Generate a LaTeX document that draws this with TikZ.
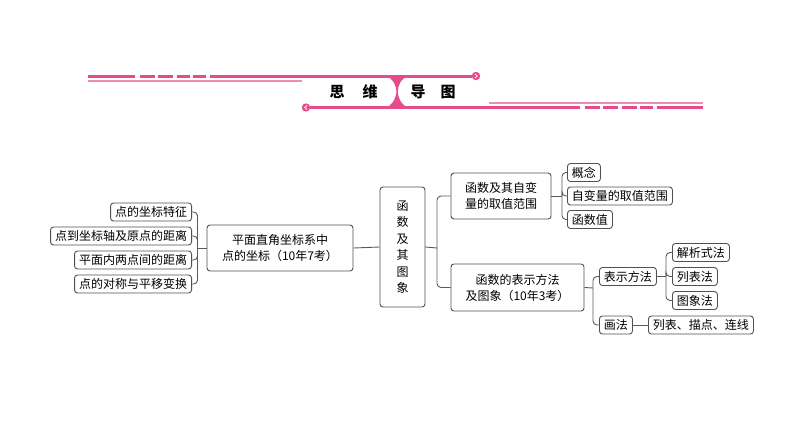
\documentclass[tikz,border=0pt]{standalone}
\usepackage{fontspec}
\setmainfont{Noto Sans CJK SC}
\definecolor{titlepink}{RGB}{230,76,140}
\definecolor{lightpink}{RGB}{238,140,178}
\definecolor{boxline}{RGB}{80,80,80}
\definecolor{linkgray}{RGB}{90,90,90}

\begin{document}
\begin{tikzpicture}[x=1pt,y=-1pt,
  box/.style={draw=boxline,line width=0.9pt,rounded corners=3pt,inner xsep=4.5pt,
    inner ysep=0pt,minimum height=18pt,font=\fontsize{12}{16}\selectfont},
  bigbox/.style={box,align=center,minimum height=46pt},
  link/.style={draw=linkgray,line width=0.9pt,rounded corners=4pt},
  pinkbar/.style={titlepink,line width=2.6pt},
  thinbar/.style={lightpink,line width=1.4pt},
  titlechar/.style={font=\fontsize{15}{15}\selectfont\bfseries}]

  \useasboundingbox (0,0) rectangle (794,447);

  % Title bar
  \draw[pinkbar] (88,76.5) -- (135,76.5);
  \foreach \a/\b in {140/155,158/173,177/190,193/206}
    \draw[pinkbar] (\a,76.5) -- (\b,76.5);
  \draw[pinkbar] (210,76.5) -- (472,76.5);
  \draw[thinbar] (88,81) -- (302,81);
  \draw[pinkbar] (310,107.5) -- (580,107.5);
  \foreach \a/\b in {585/600,603/618,622/637,640/653}
    \draw[pinkbar] (\a,107.5) -- (\b,107.5);
  \draw[pinkbar] (657,107.5) -- (703,107.5);
  \draw[thinbar] (489,103) -- (703,103);
  \fill[titlepink] (476,76) circle (4.2);
  \draw[white,line width=0.8pt] (475,74) -- (477.2,76) -- (475,78);
  \fill[titlepink] (306,107.5) circle (4.2);
  \draw[white,line width=0.8pt] (307,105.5) -- (304.8,107.5) -- (307,109.5);
  \fill[titlepink] (385,75.5) .. controls (394,79) and (396,86) .. (396.5,91.5)
    .. controls (396,97) and (394,104) .. (385,108.5) -- (409,108.5)
    .. controls (400,104) and (398,97) .. (397.8,91.5)
    .. controls (398,86) and (400,79) .. (409,75.5) -- cycle;
  \node[titlechar] (t1) at (337,92) {思};
  \node[titlechar] (t2) at (370,92) {维};
  \node[titlechar] (t3) at (418,92) {导};
  \node[titlechar] (t4) at (448,92) {图};

  % Left branch
  \node[box,anchor=east] (p1) at (192,212) {点的坐标特征};
  \node[box,anchor=east] (p2) at (192,236) {点到坐标轴及原点的距离};
  \node[box,anchor=east] (p3) at (192,260) {平面内两点间的距离};
  \node[box,anchor=east] (p4) at (192,284) {点的对称与平移变换};
  \node[bigbox,minimum width=146pt] (pm) at (280,248)
    {平面直角坐标系中\\点的坐标（10年7考）};
  \coordinate (jL) at (197.5,248);
  \foreach \n in {p1,p2,p3,p4}
    \draw[link] (\n.east) -| (jL);
  \draw[link] (jL) -- (pm.west);

  % Centre
  \node[box,align=center,minimum width=45pt,minimum height=120pt,
    font=\fontsize{12}{16.5}\selectfont] (fx) at (402.5,247)
    {函\\数\\及\\其\\图\\象};
  \draw[link] (pm.east) -- (fx.west);

  % Right branch
  \node[bigbox,minimum width=100pt] (fa) at (501,196)
    {函数及其自变\\量的取值范围};
  \node[bigbox,minimum width=133pt,minimum height=47pt] (fb) at (517.5,287.5)
    {函数的表示方法\\及图象（10年3考）};
  \coordinate (jM) at (437,248);
  \draw[link] (fx.east) -- (jM);
  \draw[link] (jM) |- (fa.west);
  \draw[link] (jM) |- (fb.west);

  \node[box,anchor=west] (a1) at (567,172.5) {概念};
  \node[box,anchor=west] (a2) at (567,196) {自变量的取值范围};
  \node[box,anchor=west] (a3) at (567,219.5) {函数值};
  \coordinate (jA) at (562,196);
  \draw[link] (fa.east) -- (jA);
  \foreach \n in {a1,a2,a3}
    \draw[link] (jA) |- (\n.west);

  \node[box,anchor=west] (b1) at (599,276.5) {表示方法};
  \node[box,anchor=west] (b2) at (599,325) {画法};
  \coordinate (jB) at (593,288);
  \draw[link] (fb.east) -- (jB);
  \draw[link] (jB) |- (b1.west);
  \draw[link] (jB) |- (b2.west);

  \node[box,anchor=west] (m1) at (672,252.5) {解析式法};
  \node[box,anchor=west] (m2) at (672,276.5) {列表法};
  \node[box,anchor=west] (m3) at (672,300.5) {图象法};
  \coordinate (jC) at (666,276.5);
  \draw[link] (b1.east) -- (jC);
  \foreach \n in {m1,m2,m3}
    \draw[link] (jC) |- (\n.west);

  \node[box,anchor=west] (d1) at (648,325) {列表、描点、连线};
  \draw[link] (b2.east) -- (d1.west);
\end{tikzpicture}
\end{document}
